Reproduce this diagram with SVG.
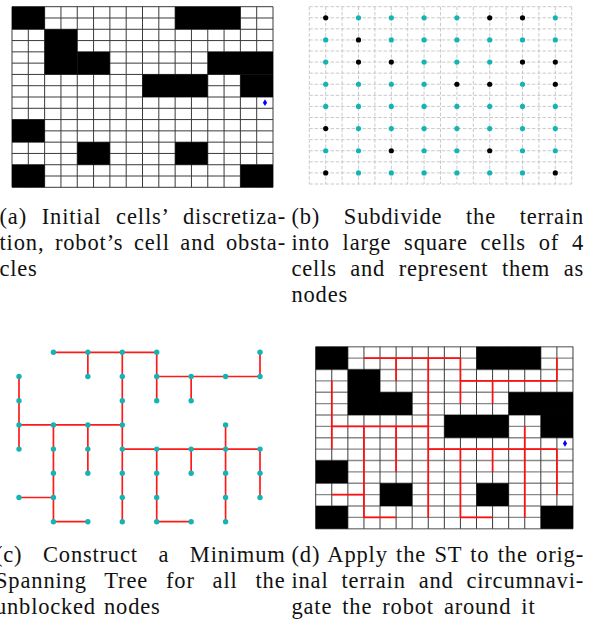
<svg xmlns="http://www.w3.org/2000/svg" width="596" height="628" viewBox="0 0 596 628">
<defs>
<style>
.gl{fill:none;stroke:#3a3a3a;stroke-width:1;vector-effect:non-scaling-stroke}
.glh{fill:none;stroke:#888;stroke-width:1.4;vector-effect:non-scaling-stroke}
.obst{fill:#000}
.dash{fill:none;stroke:#c4c4c4;stroke-width:0.9;stroke-dasharray:3.5 1.8}
.nd{fill:#14b4b4}
.blk{fill:#000}
.edge{stroke:#ff1a1a;stroke-width:1.7;stroke-linecap:butt}
.path{fill:none;stroke:#ff1010;stroke-width:1.7;vector-effect:non-scaling-stroke}
.robot{fill:#0000ff}
.cap{font-family:"Liberation Serif","DejaVu Serif",serif;font-size:22.5px;fill:#111;letter-spacing:0.8px}
</style>
</defs>
<rect width="596" height="628" fill="#fff"/>

<!-- (a) -->
<g id="fig-a">
<g transform="translate(12,6.7) scale(16.3125,11.2875)">
<path class="gl" d="M0 0V16M1 0V16M2 0V16M3 0V16M4 0V16M5 0V16M6 0V16M7 0V16M8 0V16M9 0V16M10 0V16M11 0V16M12 0V16M13 0V16M14 0V16M15 0V16M16 0V16"/>
<path class="gl" d="M0 0H16M0 1H16M0 2H16M0 3H16M0 4H16M0 5H16M0 6H16M0 7H16M0 8H16M0 9H16M0 10H16M0 11H16M0 12H16M0 13H16M0 14H16M0 15H16M0 16H16"/>
<g class="obst">
<rect x="0" y="0" width="2" height="2"/>
<rect x="10" y="0" width="4" height="2"/>
<rect x="2" y="2" width="2" height="4"/>
<rect x="4" y="4" width="2" height="2"/>
<rect x="12" y="4" width="4" height="2"/>
<rect x="14" y="6" width="2" height="2"/>
<rect x="8" y="6" width="4" height="2"/>
<rect x="0" y="10" width="2" height="2"/>
<rect x="4" y="12" width="2" height="2"/>
<rect x="10" y="12" width="2" height="2"/>
<rect x="0" y="14" width="2" height="2"/>
<rect x="14" y="14" width="2" height="2"/>
</g>
</g>
<polygon id="robot-a" class="robot" points="265,99.3 267.1,102.7 265,106.1 262.9,102.7"/>
</g>

<!-- (b) -->
<g id="fig-b">
<path class="dash" d="M309.3 6.7V184M325.7 6.7V184M342.1 6.7V184M358.5 6.7V184M374.9 6.7V184M391.3 6.7V184M407.7 6.7V184M424.1 6.7V184M440.5 6.7V184M456.9 6.7V184M473.3 6.7V184M489.7 6.7V184M506.1 6.7V184M522.5 6.7V184M538.9 6.7V184M555.3 6.7V184M571.7 6.7V184"/>
<path class="dash" d="M309.3 6.7H571.7M309.3 17.78H571.7M309.3 28.86H571.7M309.3 39.94H571.7M309.3 51.02H571.7M309.3 62.1H571.7M309.3 73.18H571.7M309.3 84.26H571.7M309.3 95.34H571.7M309.3 106.42H571.7M309.3 117.5H571.7M309.3 128.58H571.7M309.3 139.66H571.7M309.3 150.74H571.7M309.3 161.82H571.7M309.3 172.9H571.7M309.3 184H571.7"/>
<g id="b-nodes">
<circle class="blk" cx="325.7" cy="17.78" r="2.6"/><circle class="nd" cx="358.5" cy="17.78" r="2.6"/><circle class="nd" cx="391.3" cy="17.78" r="2.6"/><circle class="nd" cx="424.1" cy="17.78" r="2.6"/><circle class="nd" cx="456.9" cy="17.78" r="2.6"/><circle class="blk" cx="489.7" cy="17.78" r="2.6"/><circle class="blk" cx="522.5" cy="17.78" r="2.6"/><circle class="nd" cx="555.3" cy="17.78" r="2.6"/>
<circle class="nd" cx="325.7" cy="39.94" r="2.6"/><circle class="blk" cx="358.5" cy="39.94" r="2.6"/><circle class="nd" cx="391.3" cy="39.94" r="2.6"/><circle class="nd" cx="424.1" cy="39.94" r="2.6"/><circle class="nd" cx="456.9" cy="39.94" r="2.6"/><circle class="nd" cx="489.7" cy="39.94" r="2.6"/><circle class="nd" cx="522.5" cy="39.94" r="2.6"/><circle class="nd" cx="555.3" cy="39.94" r="2.6"/>
<circle class="nd" cx="325.7" cy="62.1" r="2.6"/><circle class="blk" cx="358.5" cy="62.1" r="2.6"/><circle class="blk" cx="391.3" cy="62.1" r="2.6"/><circle class="nd" cx="424.1" cy="62.1" r="2.6"/><circle class="nd" cx="456.9" cy="62.1" r="2.6"/><circle class="nd" cx="489.7" cy="62.1" r="2.6"/><circle class="blk" cx="522.5" cy="62.1" r="2.6"/><circle class="blk" cx="555.3" cy="62.1" r="2.6"/>
<circle class="nd" cx="325.7" cy="84.26" r="2.6"/><circle class="nd" cx="358.5" cy="84.26" r="2.6"/><circle class="nd" cx="391.3" cy="84.26" r="2.6"/><circle class="nd" cx="424.1" cy="84.26" r="2.6"/><circle class="blk" cx="456.9" cy="84.26" r="2.6"/><circle class="blk" cx="489.7" cy="84.26" r="2.6"/><circle class="nd" cx="522.5" cy="84.26" r="2.6"/><circle class="blk" cx="555.3" cy="84.26" r="2.6"/>
<circle class="nd" cx="325.7" cy="106.42" r="2.6"/><circle class="nd" cx="358.5" cy="106.42" r="2.6"/><circle class="nd" cx="391.3" cy="106.42" r="2.6"/><circle class="nd" cx="424.1" cy="106.42" r="2.6"/><circle class="nd" cx="456.9" cy="106.42" r="2.6"/><circle class="nd" cx="489.7" cy="106.42" r="2.6"/><circle class="nd" cx="522.5" cy="106.42" r="2.6"/><circle class="nd" cx="555.3" cy="106.42" r="2.6"/>
<circle class="blk" cx="325.7" cy="128.58" r="2.6"/><circle class="nd" cx="358.5" cy="128.58" r="2.6"/><circle class="nd" cx="391.3" cy="128.58" r="2.6"/><circle class="nd" cx="424.1" cy="128.58" r="2.6"/><circle class="nd" cx="456.9" cy="128.58" r="2.6"/><circle class="nd" cx="489.7" cy="128.58" r="2.6"/><circle class="nd" cx="522.5" cy="128.58" r="2.6"/><circle class="nd" cx="555.3" cy="128.58" r="2.6"/>
<circle class="nd" cx="325.7" cy="150.74" r="2.6"/><circle class="nd" cx="358.5" cy="150.74" r="2.6"/><circle class="blk" cx="391.3" cy="150.74" r="2.6"/><circle class="nd" cx="424.1" cy="150.74" r="2.6"/><circle class="nd" cx="456.9" cy="150.74" r="2.6"/><circle class="blk" cx="489.7" cy="150.74" r="2.6"/><circle class="nd" cx="522.5" cy="150.74" r="2.6"/><circle class="nd" cx="555.3" cy="150.74" r="2.6"/>
<circle class="blk" cx="325.7" cy="172.9" r="2.6"/><circle class="nd" cx="358.5" cy="172.9" r="2.6"/><circle class="nd" cx="391.3" cy="172.9" r="2.6"/><circle class="nd" cx="424.1" cy="172.9" r="2.6"/><circle class="nd" cx="456.9" cy="172.9" r="2.6"/><circle class="nd" cx="489.7" cy="172.9" r="2.6"/><circle class="nd" cx="522.5" cy="172.9" r="2.6"/><circle class="blk" cx="555.3" cy="172.9" r="2.6"/>
</g>
</g>

<!-- (c) -->
<g id="fig-c">
<g id="connectors">
<line class="edge" x1="53.43" y1="352.3" x2="156.72" y2="352.3"/>
<line class="edge" x1="87.86" y1="352.3" x2="87.86" y2="376.5"/>
<line class="edge" x1="122.29" y1="352.3" x2="122.29" y2="521.7"/>
<line class="edge" x1="156.72" y1="352.3" x2="156.72" y2="400.7"/>
<line class="edge" x1="156.72" y1="376.5" x2="260.01" y2="376.5"/>
<line class="edge" x1="191.15" y1="376.5" x2="191.15" y2="400.7"/>
<line class="edge" x1="260.01" y1="352.3" x2="260.01" y2="376.5"/>
<line class="edge" x1="19" y1="376.5" x2="19" y2="449.1"/>
<line class="edge" x1="19" y1="424.9" x2="122.29" y2="424.9"/>
<line class="edge" x1="53.43" y1="424.9" x2="53.43" y2="521.7"/>
<line class="edge" x1="87.86" y1="424.9" x2="87.86" y2="473.3"/>
<line class="edge" x1="19" y1="497.5" x2="53.43" y2="497.5"/>
<line class="edge" x1="53.43" y1="521.7" x2="87.86" y2="521.7"/>
<line class="edge" x1="122.29" y1="449.1" x2="260.01" y2="449.1"/>
<line class="edge" x1="156.72" y1="449.1" x2="156.72" y2="521.7"/>
<line class="edge" x1="156.72" y1="521.7" x2="191.15" y2="521.7"/>
<line class="edge" x1="191.15" y1="449.1" x2="191.15" y2="473.3"/>
<line class="edge" x1="225.58" y1="424.9" x2="225.58" y2="521.7"/>
<line class="edge" x1="260.01" y1="449.1" x2="260.01" y2="497.5"/>
</g>
<g id="n0-1"><circle class="nd" cx="53.43" cy="352.3" r="2.7"/></g>
<g id="n0-2"><circle class="nd" cx="87.86" cy="352.3" r="2.7"/></g>
<g id="n0-3"><circle class="nd" cx="122.29" cy="352.3" r="2.7"/></g>
<g id="n0-4"><circle class="nd" cx="156.72" cy="352.3" r="2.7"/></g>
<g id="n0-7"><circle class="nd" cx="260.01" cy="352.3" r="2.7"/></g>
<g id="n1-0"><circle class="nd" cx="19" cy="376.5" r="2.7"/></g>
<g id="n1-2"><circle class="nd" cx="87.86" cy="376.5" r="2.7"/></g>
<g id="n1-3"><circle class="nd" cx="122.29" cy="376.5" r="2.7"/></g>
<g id="n1-4"><circle class="nd" cx="156.72" cy="376.5" r="2.7"/></g>
<g id="n1-5"><circle class="nd" cx="191.15" cy="376.5" r="2.7"/></g>
<g id="n1-6"><circle class="nd" cx="225.58" cy="376.5" r="2.7"/></g>
<g id="n1-7"><circle class="nd" cx="260.01" cy="376.5" r="2.7"/></g>
<g id="n2-0"><circle class="nd" cx="19" cy="400.7" r="2.7"/></g>
<g id="n2-3"><circle class="nd" cx="122.29" cy="400.7" r="2.7"/></g>
<g id="n2-4"><circle class="nd" cx="156.72" cy="400.7" r="2.7"/></g>
<g id="n2-5"><circle class="nd" cx="191.15" cy="400.7" r="2.7"/></g>
<g id="n3-0"><circle class="nd" cx="19" cy="424.9" r="2.7"/></g>
<g id="n3-1"><circle class="nd" cx="53.43" cy="424.9" r="2.7"/></g>
<g id="n3-2"><circle class="nd" cx="87.86" cy="424.9" r="2.7"/></g>
<g id="n3-3"><circle class="nd" cx="122.29" cy="424.9" r="2.7"/></g>
<g id="n3-6"><circle class="nd" cx="225.58" cy="424.9" r="2.7"/></g>
<g id="n4-0"><circle class="nd" cx="19" cy="449.1" r="2.7"/></g>
<g id="n4-1"><circle class="nd" cx="53.43" cy="449.1" r="2.7"/></g>
<g id="n4-2"><circle class="nd" cx="87.86" cy="449.1" r="2.7"/></g>
<g id="n4-3"><circle class="nd" cx="122.29" cy="449.1" r="2.7"/></g>
<g id="n4-4"><circle class="nd" cx="156.72" cy="449.1" r="2.7"/></g>
<g id="n4-5"><circle class="nd" cx="191.15" cy="449.1" r="2.7"/></g>
<g id="n4-6"><circle class="nd" cx="225.58" cy="449.1" r="2.7"/></g>
<g id="n4-7"><circle class="nd" cx="260.01" cy="449.1" r="2.7"/></g>
<g id="n5-1"><circle class="nd" cx="53.43" cy="473.3" r="2.7"/></g>
<g id="n5-2"><circle class="nd" cx="87.86" cy="473.3" r="2.7"/></g>
<g id="n5-3"><circle class="nd" cx="122.29" cy="473.3" r="2.7"/></g>
<g id="n5-4"><circle class="nd" cx="156.72" cy="473.3" r="2.7"/></g>
<g id="n5-5"><circle class="nd" cx="191.15" cy="473.3" r="2.7"/></g>
<g id="n5-6"><circle class="nd" cx="225.58" cy="473.3" r="2.7"/></g>
<g id="n5-7"><circle class="nd" cx="260.01" cy="473.3" r="2.7"/></g>
<g id="n6-0"><circle class="nd" cx="19" cy="497.5" r="2.7"/></g>
<g id="n6-1"><circle class="nd" cx="53.43" cy="497.5" r="2.7"/></g>
<g id="n6-3"><circle class="nd" cx="122.29" cy="497.5" r="2.7"/></g>
<g id="n6-4"><circle class="nd" cx="156.72" cy="497.5" r="2.7"/></g>
<g id="n6-6"><circle class="nd" cx="225.58" cy="497.5" r="2.7"/></g>
<g id="n6-7"><circle class="nd" cx="260.01" cy="497.5" r="2.7"/></g>
<g id="n7-1"><circle class="nd" cx="53.43" cy="521.7" r="2.7"/></g>
<g id="n7-2"><circle class="nd" cx="87.86" cy="521.7" r="2.7"/></g>
<g id="n7-3"><circle class="nd" cx="122.29" cy="521.7" r="2.7"/></g>
<g id="n7-4"><circle class="nd" cx="156.72" cy="521.7" r="2.7"/></g>
<g id="n7-5"><circle class="nd" cx="191.15" cy="521.7" r="2.7"/></g>
<g id="n7-6"><circle class="nd" cx="225.58" cy="521.7" r="2.7"/></g>
</g>

<!-- (d) -->
<g id="fig-d">
<g transform="translate(315.7,346.7) scale(16.08,11.38)">
<path class="glh" d="M0 0H16M0 1H16M0 2H16M0 3H16M0 4H16M0 5H16M0 6H16M0 7H16M0 8H16M0 9H16M0 10H16M0 11H16M0 12H16M0 13H16M0 14H16M0 15H16M0 16H16"/>
<path class="gl" d="M0 0V16M1 0V16M2 0V16M3 0V16M4 0V16M5 0V16M6 0V16M7 0V16M8 0V16M9 0V16M10 0V16M11 0V16M12 0V16M13 0V16M14 0V16M15 0V16M16 0V16"/>
<g class="obst">
<rect x="0" y="0" width="2" height="2"/>
<rect x="10" y="0" width="4" height="2"/>
<rect x="2" y="2" width="2" height="4"/>
<rect x="4" y="4" width="2" height="2"/>
<rect x="12" y="4" width="4" height="2"/>
<rect x="14" y="6" width="2" height="2"/>
<rect x="8" y="6" width="4" height="2"/>
<rect x="0" y="10" width="2" height="2"/>
<rect x="4" y="12" width="2" height="2"/>
<rect x="10" y="12" width="2" height="2"/>
<rect x="0" y="14" width="2" height="2"/>
<rect x="14" y="14" width="2" height="2"/>
</g>
<path id="tree-d" class="path" d="M3 1H9M5 1V3M7 1V15M9 1V5M9 3H15M11 3V5M15 1V3M1 3V9M1 7H7M3 7V15M5 7V11M1 13H3M3 15H5M7 9H15M9 9V15M9 15H11M11 9V11M13 7V15M15 9V13"/>
</g>
<polygon id="robot-d" class="robot" points="565,440 567.1,443.4 565,446.8 562.9,443.4"/>
</g>

<!-- captions -->
<g id="captions">
<text class="cap" x="-0.5" y="224" textLength="286.5" lengthAdjust="spacing" word-spacing="8.2">(a) Initial cells’ discretiza-</text>
<text class="cap" x="-0.5" y="250" textLength="286.5" lengthAdjust="spacing" word-spacing="4.1">tion, robot’s cell and obsta-</text>
<text class="cap" x="-0.5" y="276">cles</text>
<text class="cap" x="291.5" y="224" textLength="292.5" lengthAdjust="spacing" word-spacing="17.3">(b) Subdivide the terrain</text>
<text class="cap" x="291.5" y="250" textLength="292.5" lengthAdjust="spacing" word-spacing="6.4">into large square cells of 4</text>
<text class="cap" x="291.5" y="276" textLength="292.5" lengthAdjust="spacing" word-spacing="7.1">cells and represent them as</text>
<text class="cap" x="291.5" y="302">nodes</text>
<text class="cap" x="-5" y="562" textLength="290.5" lengthAdjust="spacing" word-spacing="14.2">(c) Construct a Minimum</text>
<text class="cap" x="-5" y="588" textLength="290.5" lengthAdjust="spacing" word-spacing="11.4">Spanning Tree for all the</text>
<text class="cap" x="-5" y="614" word-spacing="1.7">unblocked nodes</text>
<text class="cap" x="291.5" y="562" textLength="292.5" lengthAdjust="spacing" word-spacing="1.8">(d) Apply the ST to the orig-</text>
<text class="cap" x="291.5" y="588" textLength="292.5" lengthAdjust="spacing" word-spacing="6.5">inal terrain and circumnavi-</text>
<text class="cap" x="291.5" y="614" word-spacing="3.7">gate the robot around it</text>
</g>
</svg>
